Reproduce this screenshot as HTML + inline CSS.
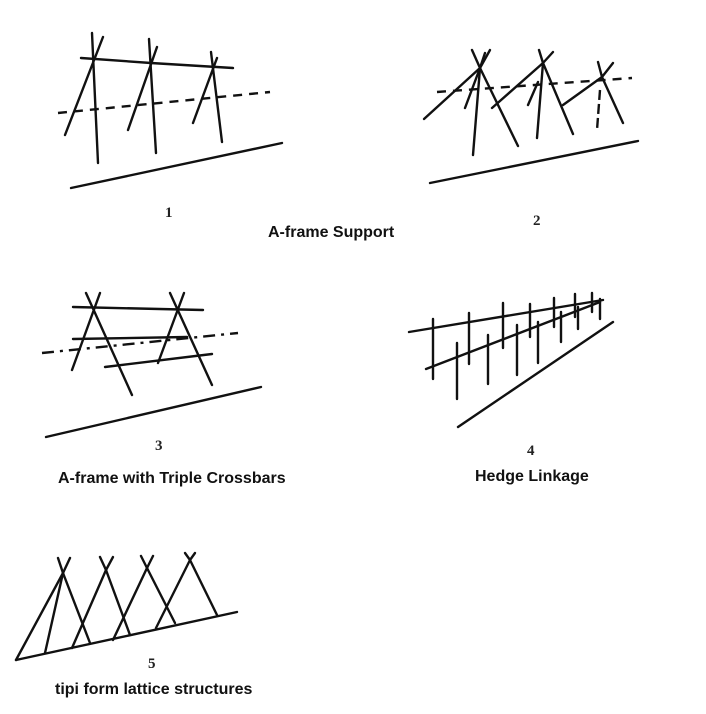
<!DOCTYPE html>
<html><head><meta charset="utf-8"><style>
html,body{margin:0;padding:0;background:#fff;}
svg{display:block;}
.l{stroke:#111;stroke-width:2.4;stroke-linecap:round;fill:none;}
.d{stroke:#111;stroke-width:2.4;fill:none;stroke-dasharray:9 7;}
.t{font-family:"Liberation Sans",sans-serif;font-weight:bold;font-size:16px;fill:#111;}
.n{font-family:"Liberation Serif",serif;font-weight:bold;font-size:15px;fill:#222;}
</style></head><body>
<svg width="706" height="714" viewBox="0 0 706 714" xmlns="http://www.w3.org/2000/svg">
<!-- Fig 1 -->
<g class="l">
<polyline points="81,58 151,63 233,68"/>
<line x1="92" y1="33" x2="98" y2="163"/><line x1="103" y1="37" x2="65" y2="135"/>
<line x1="149" y1="39" x2="156" y2="153"/><line x1="157" y1="47" x2="128" y2="130"/>
<line x1="211" y1="52" x2="222" y2="142"/><line x1="217" y1="58" x2="193" y2="123"/>
<line x1="71" y1="188" x2="282" y2="143"/>
</g>
<line class="d" x1="58" y1="113" x2="270" y2="92"/>
<text class="n" x="165" y="217">1</text>
<text class="t" x="268" y="237">A-frame Support</text>
<!-- Fig 2 -->
<g class="l">
<line x1="480" y1="68" x2="473" y2="155"/><line x1="480" y1="68" x2="518" y2="146"/>
<line x1="480" y1="68" x2="424" y2="119"/><line x1="480" y1="68" x2="465" y2="108"/>
<line x1="480" y1="68" x2="472" y2="50"/><line x1="480" y1="68" x2="490" y2="50"/><line x1="480" y1="68" x2="485" y2="53"/>
<line x1="543" y1="63" x2="537" y2="138"/><line x1="543" y1="63" x2="573" y2="134"/>
<line x1="543" y1="63" x2="492" y2="108"/><line x1="538" y1="82" x2="528" y2="105"/>
<line x1="543" y1="63" x2="539" y2="50"/><line x1="543" y1="63" x2="553" y2="52"/>
<line x1="602" y1="77" x2="623" y2="123"/><line x1="602" y1="77" x2="563" y2="105"/>
<line x1="602" y1="77" x2="598" y2="62"/><line x1="602" y1="77" x2="613" y2="63"/>
<line x1="430" y1="183" x2="638" y2="141"/>
</g>
<line class="d" x1="600" y1="90" x2="597" y2="130" style="stroke-dasharray:10 4"/>
<line class="d" x1="437" y1="92" x2="632" y2="78"/>
<text class="n" x="533" y="225">2</text>
<!-- Fig 3 -->
<g class="l">
<line x1="86" y1="293" x2="132" y2="395"/><line x1="100" y1="293" x2="72" y2="370"/>
<line x1="170" y1="293" x2="212" y2="385"/><line x1="184" y1="293" x2="158" y2="363"/>
<line x1="73" y1="307" x2="203" y2="310"/>
<line x1="73" y1="339" x2="187" y2="337"/>
<line x1="105" y1="367" x2="212" y2="354"/>
<line x1="46" y1="437" x2="261" y2="387"/>
</g>
<line class="d" x1="42" y1="353" x2="238" y2="333" style="stroke-dasharray:12 6 3 6"/>
<text class="n" x="155" y="450">3</text>
<text class="t" x="58" y="483">A-frame with Triple Crossbars</text>
<!-- Fig 4 -->
<g class="l">
<line x1="409" y1="332" x2="603" y2="300"/>
<line x1="426" y1="369" x2="600" y2="302"/>
<line x1="458" y1="427" x2="613" y2="322"/>
<line x1="433" y1="319" x2="433" y2="379"/>
<line x1="457" y1="343" x2="457" y2="399"/>
<line x1="469" y1="313" x2="469" y2="364"/>
<line x1="488" y1="335" x2="488" y2="384"/>
<line x1="503" y1="303" x2="503" y2="348"/>
<line x1="517" y1="325" x2="517" y2="375"/>
<line x1="530" y1="304" x2="530" y2="337"/>
<line x1="538" y1="322" x2="538" y2="363"/>
<line x1="554" y1="298" x2="554" y2="327"/>
<line x1="561" y1="312" x2="561" y2="342"/>
<line x1="575" y1="294" x2="575" y2="317"/>
<line x1="578" y1="307" x2="578" y2="329"/>
<line x1="592" y1="293" x2="592" y2="312"/>
<line x1="600" y1="299" x2="600" y2="319"/>
</g>
<text class="n" x="527" y="455">4</text>
<text class="t" x="475" y="481">Hedge Linkage</text>
<!-- Fig 5 -->
<g class="l">
<line x1="16" y1="660" x2="237" y2="612"/>
<line x1="63" y1="573" x2="16" y2="660"/><line x1="63" y1="573" x2="45" y2="653"/><line x1="63" y1="573" x2="90" y2="643"/>
<line x1="63" y1="573" x2="58" y2="558"/><line x1="63" y1="573" x2="70" y2="558"/>
<line x1="106" y1="570" x2="72" y2="648"/><line x1="106" y1="570" x2="130" y2="635"/>
<line x1="106" y1="570" x2="100" y2="557"/><line x1="106" y1="570" x2="113" y2="557"/>
<line x1="147" y1="568" x2="113" y2="640"/><line x1="147" y1="568" x2="175" y2="623"/>
<line x1="147" y1="568" x2="141" y2="556"/><line x1="147" y1="568" x2="153" y2="556"/>
<line x1="190" y1="560" x2="156" y2="628"/><line x1="190" y1="560" x2="217" y2="615"/>
<line x1="190" y1="560" x2="185" y2="553"/><line x1="190" y1="560" x2="195" y2="553"/>
</g>
<text class="n" x="148" y="668">5</text>
<text class="t" x="55" y="694">tipi form lattice structures</text>
</svg>
</body></html>
